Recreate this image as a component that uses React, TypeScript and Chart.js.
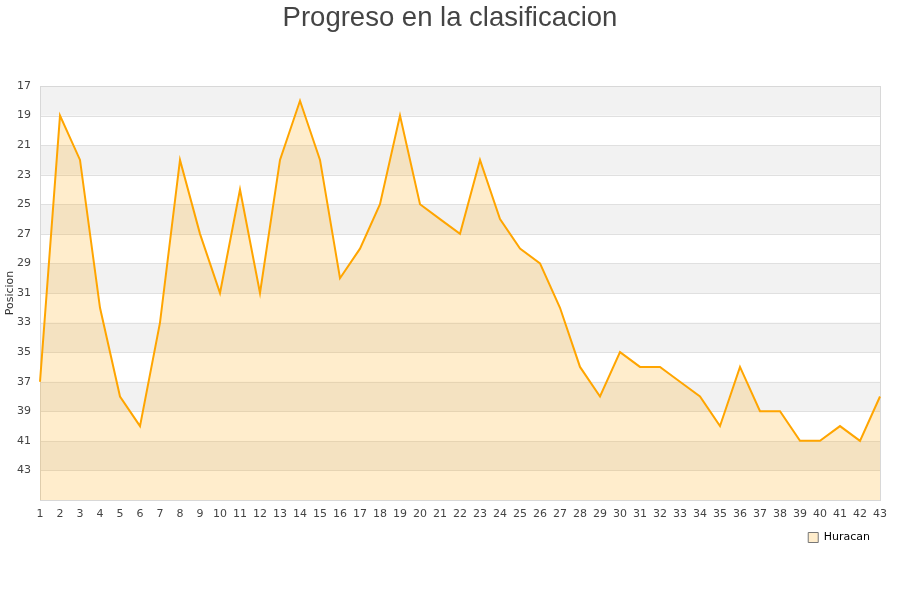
import { useEffect, useRef } from 'react';
import { Chart, registerables, ChartConfiguration, Plugin } from 'chart.js';

Chart.register(...registerables);

// Jornadas 1..43
const jornadas = ['1', '2', '3', '4', '5', '6', '7', '8', '9', '10', '11', '12', '13', '14', '15', '16', '17', '18', '19', '20', '21', '22', '23', '24', '25', '26', '27', '28', '29', '30', '31', '32', '33', '34', '35', '36', '37', '38', '39', '40', '41', '42', '43'];

// Posicion de Huracan por jornada
const huracan = [37, 19, 22, 32, 38, 40, 33, 22, 27, 31, 24, 31, 22, 18, 22, 30, 28, 25, 19, 25, 26, 27, 22, 26, 28, 29, 32, 36, 38, 35, 36, 36, 37, 38, 40, 36, 39, 39, 41, 41, 40, 41, 38];

// Limites del eje de posicion
const posMin = 17;
const posMax = 45;
const posStep = 2;

const tickFont = { family: 'DejaVu Sans', size: 11 };

// alternating gray bands + outer border, drawn under the data
const bandsPlugin: Plugin<'line'> = {
    id: 'bands',
    beforeDatasetsDraw(chart) {
        const { ctx, chartArea } = chart;
        const y = chart.scales.y;
        ctx.save();
        ctx.fillStyle = '#f2f2f2';
        for (let v = posMin; v < posMax; v += posStep * 2) {
            const top = y.getPixelForValue(v);
            const bottom = y.getPixelForValue(Math.min(v + posStep, posMax));
            ctx.fillRect(chartArea.left, top, chartArea.right - chartArea.left, bottom - top);
        }
        ctx.strokeStyle = '#e0e0e0';
        ctx.lineWidth = 1;
        for (let v = posMin; v <= posMax; v += posStep) {
            const py = Math.round(y.getPixelForValue(v)) + 0.5;
            ctx.beginPath();
            ctx.moveTo(chartArea.left, py);
            ctx.lineTo(chartArea.right, py);
            ctx.stroke();
        }
        ctx.strokeStyle = '#d8d8d8';
        ctx.strokeRect(
            Math.round(chartArea.left) + 0.5,
            Math.round(chartArea.top) + 0.5,
            Math.round(chartArea.right - chartArea.left),
            Math.round(chartArea.bottom - chartArea.top)
        );
        ctx.restore();
    },
};

const App = () => {
    const canvasRef = useRef<HTMLCanvasElement | null>(null);
    const chartInstance = useRef<Chart<'line'> | null>(null);

    useEffect(() => {
        document.body.style.margin = '0';
        if (!canvasRef.current) return;
        if (chartInstance.current) chartInstance.current.destroy();

        const config: ChartConfiguration<'line'> = {
            type: 'line',
            data: {
                labels: jornadas,
                datasets: [
                    {
                        label: 'Huracan',
                        data: huracan,
                        borderColor: '#ffa500',
                        backgroundColor: 'rgba(255,165,0,0.2)',
                        borderWidth: 2,
                        pointRadius: 0,
                        tension: 0,
                        fill: 'start',
                    },
                ],
            },
            options: {
                responsive: true,
                maintainAspectRatio: false,
                animation: false,
                layout: { padding: { left: 0, right: 0, top: 0, bottom: 47 } },
                plugins: {
                    title: {
                        display: true,
                        text: 'Progreso en la clasificacion',
                        color: '#444',
                        font: { family: 'Liberation Sans', size: 27.5, weight: 'normal' },
                        padding: { top: 2, bottom: 51 },
                    },
                    legend: {
                        position: 'bottom',
                        align: 'end',
                        fullSize: false,
                        labels: {
                            boxWidth: 10,
                            boxHeight: 10,
                            padding: 10,
                            color: '#000',
                            font: tickFont,
                            generateLabels: (chart) =>
                                chart.data.datasets.map((ds, i) => ({
                                    text: ds.label as string,
                                    fillStyle: 'rgba(255,165,0,0.2)',
                                    strokeStyle: '#777',
                                    lineWidth: 1,
                                    datasetIndex: i,
                                })),
                        },
                    },
                    tooltip: { enabled: false },
                },
                scales: {
                    x: {
                        offset: false,
                        grid: { display: false, drawTicks: false },
                        border: { display: false },
                        ticks: { color: '#444', font: tickFont, maxRotation: 0, autoSkip: false, padding: 8 },
                        afterFit: (scale) => {
                            scale.height = 22;
                        },
                    },
                    y: {
                        min: posMin,
                        max: posMax,
                        reverse: true,
                        grid: { display: false, drawTicks: false },
                        border: { display: false },
                        ticks: {
                            stepSize: posStep,
                            color: '#444',
                            font: tickFont,
                            padding: 9,
                            callback: (v) => (Number(v) === posMax ? '' : String(v)),
                        },
                        title: {
                            display: true,
                            text: 'Posicion',
                            color: '#333',
                            font: tickFont,
                            padding: { top: 4, bottom: 0 },
                        },
                        afterFit: (scale) => {
                            scale.width = 40;
                        },
                    },
                    // empty right-hand gutter so the plot ends 20px from the edge
                    gutter: {
                        type: 'linear',
                        position: 'right',
                        display: true,
                        grid: { display: false, drawTicks: false },
                        border: { display: false },
                        ticks: { display: false },
                        afterFit: (scale) => {
                            scale.width = 20;
                        },
                    },
                },
            },
            plugins: [bandsPlugin],
        };

        chartInstance.current = new Chart(canvasRef.current, config);

        return () => {
            if (chartInstance.current) chartInstance.current.destroy();
        };
    }, []);

    return (
        <div style={{ position: 'relative', width: 900, height: 600, background: '#fff' }}>
            <canvas ref={canvasRef} />
        </div>
    );
};

export default App;
